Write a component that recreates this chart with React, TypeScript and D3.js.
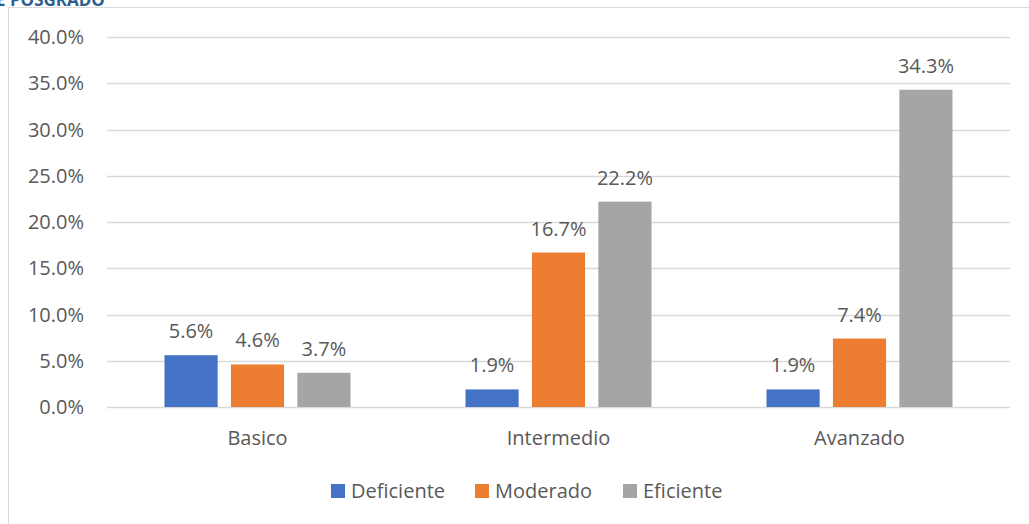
import * as d3 from 'd3';
import { useEffect, useRef } from 'react';

const categories = ['Basico', 'Intermedio', 'Avanzado'];
const seriesNames = ['Deficiente', 'Moderado', 'Eficiente'];
const deficiente = [5.6, 1.9, 1.9];
const moderado = [4.6, 16.7, 7.4];
const eficiente = [3.7, 22.2, 34.3];
const yTicks = [0, 5, 10, 15, 20, 25, 30, 35, 40];
const colors = ['#4472C4', '#ED7D31', '#A5A5A5'];

const W = 1029;
const H = 524;

export default function App() {
  const svgRef = useRef<SVGSVGElement>(null);

  useEffect(() => {
    const svg = d3.select(svgRef.current);
    svg.selectAll('*').remove();
    const font = '"Open Sans", "Noto Sans", sans-serif';
    const fs = 20;
    const textColor = '#595959';

    // chart frame (cut off at the edges)
    svg.append('rect').attr('x', 8.5).attr('y', 7.5).attr('width', W + 10).attr('height', H + 10)
      .attr('fill', 'white').attr('stroke', '#d9d9d9').attr('stroke-width', 1);

    svg.append('text').attr('x', -4).attr('y', 6)
      .attr('font-family', font).attr('font-weight', 700).attr('font-size', 17)
      .attr('fill', '#2E5E8E').text('E POSGRADO');

    const left = 107, right = 1010, top = 37, bottom = 407;
    const x = d3.scaleBand().domain(categories).range([left, right]).paddingInner(0).paddingOuter(0);
    const inner = d3.scaleBand().domain(seriesNames).range([57.5, x.bandwidth() - 57.5]).paddingInner(0.2);
    const y = d3.scaleLinear().domain([0, 40]).range([bottom, top]);

    const g = svg.append('g');
    g.selectAll('line.grid').data(yTicks).join('line')
      .attr('x1', left).attr('x2', right)
      .attr('y1', d => Math.round(y(d)) + 0.5).attr('y2', d => Math.round(y(d)) + 0.5)
      .attr('stroke', '#d9d9d9').attr('stroke-width', 1.5);

    g.selectAll('text.ytick').data(yTicks).join('text')
      .attr('x', 84).attr('y', d => y(d)).attr('dy', '0.35em')
      .attr('text-anchor', 'end').attr('font-family', font).attr('font-size', fs)
      .attr('fill', textColor).text(d => d.toFixed(1) + '%');

    const series = [deficiente, moderado, eficiente];
    series.forEach((vals, si) => {
      const name = seriesNames[si];
      categories.forEach((c, ci) => {
        const bx = (x(c) as number) + (inner(name) as number);
        const v = vals[ci];
        g.append('rect').attr('x', bx).attr('y', y(v))
          .attr('width', inner.bandwidth()).attr('height', y(0) - y(v))
          .attr('fill', colors[si]);
        g.append('text').attr('x', bx + inner.bandwidth() / 2).attr('y', y(v) - 17)
          .attr('text-anchor', 'middle').attr('font-family', font).attr('font-size', fs)
          .attr('fill', textColor).text(v.toFixed(1) + '%');
      });
    });

    g.selectAll('text.xcat').data(categories).join('text')
      .attr('x', d => (x(d) as number) + x.bandwidth() / 2).attr('y', 438).attr('dy', '0.35em')
      .attr('text-anchor', 'middle').attr('font-family', font).attr('font-size', fs)
      .attr('fill', textColor).text(d => d);

    // legend
    const legendX = [331, 475, 623];
    seriesNames.forEach((n, i) => {
      svg.append('rect').attr('x', legendX[i]).attr('y', 484).attr('width', 14).attr('height', 14)
        .attr('fill', colors[i]);
      svg.append('text').attr('x', legendX[i] + 20).attr('y', 491).attr('dy', '0.35em')
        .attr('font-family', font).attr('font-size', fs).attr('fill', textColor).text(n);
    });
  }, []);

  return (
    <div style={{ position: 'fixed', left: 0, top: 0, width: W, height: H, background: 'white' }}>
      <svg ref={svgRef} width={W} height={H}></svg>
    </div>
  );
}
